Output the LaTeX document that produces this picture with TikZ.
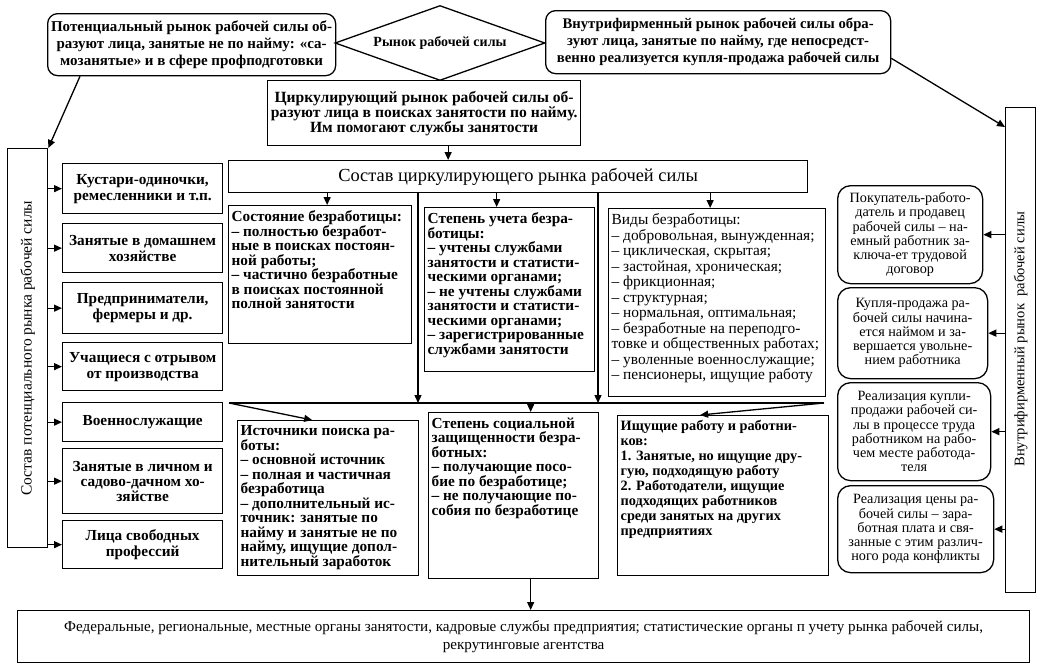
\documentclass[tikz,border=0pt]{standalone}
\usepackage{fontspec}
\usepackage{graphicx}
\setmainfont{Liberation Serif}
\usetikzlibrary{shapes.geometric,arrows.meta}
\begin{document}
\begin{tikzpicture}[x=1pt,y=-1pt,
  box/.style={draw, line width=1.3pt, inner sep=3pt, anchor=north west},
  tbox/.style={box, inner xsep=3pt, inner ysep=5pt},
  rbox/.style={box, rounded corners=10pt},
  cbox/.style={box, align=center, font=\fontsize{15.3}{16}\selectfont\bfseries},
  tbfont/.style={font=\fontsize{15.3}{14.5}\selectfont\bfseries},
  trfont/.style={font=\fontsize{15.4}{15.5}\selectfont},
  rrfont/.style={font=\fontsize{14.2}{14.2}\selectfont},
  topfont/.style={font=\fontsize{15}{17}\selectfont\bfseries},
  arr/.style={-{Triangle[length=8pt,width=7pt]}, line width=1.3pt},
  ln/.style={line width=1.3pt}]
\useasboundingbox (0,0) rectangle (1042,667);

% top row
\node[rbox, align=center, minimum width=288pt, minimum height=62pt, topfont, inner sep=1pt] (pot) at (47,13)
  {Потенциальный рынок рабочей силы об-\\разуют лица, занятые не по найму: «са-\\мозанятые» и в сфере профподготовки};
\node[draw, line width=1.3pt, diamond, minimum width=210pt, minimum height=75pt, inner sep=0pt, shape aspect=2.8, font=\fontsize{14}{16}\selectfont\bfseries] (mkt) at (440,43) {Рынок рабочей силы};
\node[rbox, align=center, minimum width=345pt, minimum height=63pt, font=\fontsize{14.7}{17}\selectfont\bfseries, inner sep=1pt] (inn) at (545,10)
  {Внутрифирменный рынок рабочей силы обра-\\зуют лица, занятые по найму, где непосредст-\\венно реализуется купля-продажа рабочей силы};
\node[box, fill=white, align=center, minimum width=313pt, minimum height=65pt, font=\fontsize{15.6}{15}\selectfont\bfseries, inner sep=1pt] (circ) at (267,80)
  {Циркулирующий рынок рабочей силы об-\\разуют лица в поисках занятости по найму.\\Им помогают службы занятости};

\node[box, minimum width=579pt, minimum height=32pt, font=\fontsize{18.4}{20}\selectfont] (sostav) at (228,160)
  {Состав циркулирующего рынка рабочей силы};

% middle row
\node[tbox, tbfont] (b1) at (228,205) {\parbox[t][128pt][t]{177pt}{\raggedright
Состояние безработицы:\\– полностью безработ-\\ные в поисках постоян-\\ной работы;\\– частично безработные\\в поисках постоянной\\полной занятости}};
\node[tbox, tbfont] (b2) at (424,207) {\parbox[t][154pt][t]{164pt}{\raggedright
Степень учета безра-\\ботицы:\\– учтены службами\\занятости и статисти-\\ческими органами;\\– не учтены службами\\занятости и статисти-\\ческими органами;\\– зарегистрированные\\службами занятости}};
\node[tbox, trfont] (b3) at (608,208) {\parbox[t][178pt][t]{211pt}{\raggedright
Виды безработицы:\\– добровольная, вынужденная;\\– циклическая, скрытая;\\– застойная, хроническая;\\– фрикционная;\\– структурная;\\– нормальная, оптимальная;\\– безработные на переподго-\\товке и общественных работах;\\– уволенные военнослужащие;\\– пенсионеры, ищущие работу}};

% bottom row
\node[tbox, tbfont] (src) at (237,420) {\parbox[t][145pt][t]{175pt}{\raggedright
Источники поиска ра-\\боты:\\– основной источник\\– полная и частичная\\безработица\\– дополнительный ис-\\точник: занятые по\\найму и занятые не по\\найму, ищущие допол-\\нительный заработок}};
\node[tbox, tbfont] (soc) at (428,412) {\parbox[t][156pt][t]{164pt}{\raggedright
Степень социальной\\защищенности безра-\\ботных:\\– получающие посо-\\бие по безработице;\\– не получающие по-\\собия по безработице}};
\node[tbox, font=\fontsize{14.3}{14.9}\selectfont\bfseries] (seek) at (617,415) {\parbox[t][150pt][t]{205pt}{\raggedright
Ищущие работу и работни-\\ков:\\1. Занятые, но ищущие дру-\\гую, подходящую работу\\2. Работодатели, ищущие\\подходящих работников\\среди занятых на других\\предприятиях}};

\node[box, align=center, minimum width=1012pt, minimum height=52pt, font=\fontsize{15.1}{18}\selectfont] (fed) at (17,610)
  {Федеральные, региональные, местные органы занятости, кадровые службы предприятия; статистические органы п учету рынка рабочей силы,\\рекрутинговые агентства};

% left column
\node[box, minimum width=40pt, minimum height=399pt, inner sep=0pt] (potv) at (7,148)
  {\rotatebox{90}{\fontsize{15.5}{16}\selectfont Состав потенциального рынка рабочей силы}};
\node[cbox, minimum width=160pt, minimum height=50pt] (l1) at (62,163) {Кустари-одиночки,\\ремесленники и т.п.};
\node[cbox, minimum width=160pt, minimum height=49pt] (l2) at (62,223) {Занятые в домашнем\\хозяйстве};
\node[cbox, minimum width=160pt, minimum height=51pt] (l3) at (62,282) {Предприниматели,\\фермеры и др.};
\node[cbox, minimum width=160pt, minimum height=48pt] (l4) at (62,342) {Учащиеся с отрывом\\от производства};
\node[cbox, minimum width=160pt, minimum height=39pt] (l5) at (62,402) {Военнослужащие};
\node[cbox, minimum width=160pt, minimum height=65pt, font=\fontsize{15.3}{15}\selectfont\bfseries] (l6) at (62,448) {Занятые в личном и\\садово-дачном хо-\\зяйстве};
\node[cbox, minimum width=160pt, minimum height=48pt] (l7) at (62,520) {Лица свободных\\профессий};

% right column
\node[box, minimum width=30pt, minimum height=485pt, inner sep=0pt] (innv) at (1005,107)
  {\rotatebox{90}{\fontsize{14.6}{16}\selectfont\hspace*{22pt}Внутрифирменный рынок\ \ рабочей силы}};
\node[rbox, rounded corners=13pt, align=center, minimum width=145pt, minimum height=98pt, rrfont, inner sep=1pt] (r1) at (837,185)
  {Покупатель-работо-\\датель и продавец\\рабочей силы – на-\\емный работник за-\\ключа-ет трудовой\\договор};
\node[rbox, rounded corners=13pt, align=center, minimum width=150pt, minimum height=91pt, rrfont, inner sep=1pt] (r2) at (837,287)
  {Купля-продажа ра-\\бочей силы начина-\\ется наймом и за-\\вершается увольне-\\нием работника};
\node[rbox, rounded corners=13pt, align=center, minimum width=153pt, minimum height=98pt, rrfont, inner sep=1pt] (r3) at (837,382)
  {Реализация купли-\\продажи рабочей си-\\лы в процессе труда\\работником на рабо-\\чем месте работода-\\теля};
\node[rbox, rounded corners=13pt, align=center, minimum width=156pt, minimum height=87pt, rrfont, inner sep=1pt] (r4) at (837,485)
  {Реализация цены ра-\\бочей силы – зара-\\ботная плата и свя-\\занные с этим различ-\\ного рода конфликты};

% connectors
\draw[arr] ([xshift=33pt]pot.south west) -- (potv.north east);
\draw[arr] ([yshift=16pt]inn.south east) -- ([yshift=-20pt]innv.north west);
\draw[arr] ([xshift=24pt]circ.south) -- ([xshift=24pt]circ.south |- sostav.north);
\draw[arr] ([xshift=7pt]b1.north |- sostav.south) -- ([xshift=7pt]b1.north);
\draw[arr] ([xshift=-13pt]b2.north |- sostav.south) -- ([xshift=-13pt]b2.north);
\draw[arr] ([xshift=-7pt]b3.north |- sostav.south) -- ([xshift=-7pt]b3.north);

\coordinate (hl) at (229,403);
\coordinate (hr) at (824,403);
\coordinate (v1) at (418,403);
\coordinate (v2) at (598,403);
\draw[ln] (hl) -- (hr);
\draw[arr] (v1 |- sostav.south) -- (v1);
\draw[arr] (v2 |- sostav.south) -- (v2);
\draw[arr] (hl) -- ([xshift=-16pt]src.north);
\draw[arr] ([xshift=17pt]soc.north |- hl) -- ([xshift=17pt]soc.north);
\draw[arr] (hr) -- ([xshift=-23pt]seek.north);
\draw[arr] ([xshift=17pt]soc.south) -- ([xshift=17pt]soc.south |- fed.north);

\foreach \n in {l1,l2,l3,l4,l5,l6,l7}
  \draw[arr] (potv.east |- \n.west) -- (\n.west);
\foreach \n in {r1,r2,r3,r4}
  \draw[arr] (innv.west |- \n.east) -- (\n.east);
\end{tikzpicture}
\end{document}
